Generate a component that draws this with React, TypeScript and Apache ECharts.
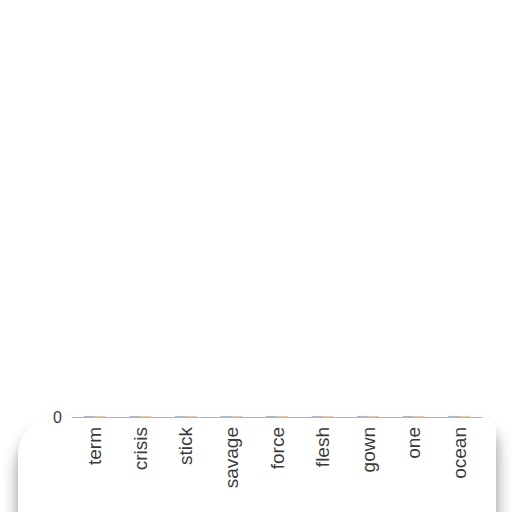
import React, { useEffect, useRef } from 'react';
import * as echarts from 'echarts';

const categories = ['term', 'crisis', 'stick', 'savage', 'force', 'flesh', 'gown', 'one', 'ocean'];
// bars are squashed to ~1px in the reference; heights can't be read, all look equal
const seriesA = [1, 1, 1, 1, 1, 1, 1, 1, 1];
const seriesB = [1, 1, 1, 1, 1, 1, 1, 1, 1];
const yTicks = [0, 1];

const App: React.FC = () => {
  const chartRef = useRef<HTMLDivElement>(null);

  useEffect(() => {
    if (!chartRef.current) return;
    const chart = echarts.init(chartRef.current, null, { renderer: 'svg' });
    chart.setOption({
      animation: false,
      backgroundColor: '#fff',
      graphic: [
        {
          type: 'rect',
          z: -10,
          silent: true,
          shape: { x: 18, y: 416, width: 478, height: 130, r: [40, 16, 0, 0] },
          style: {
            fill: '#fff',
            shadowBlur: 16,
            shadowOffsetY: 14,
            shadowColor: 'rgba(0,0,0,0.45)',
          },
        },
      ],
      grid: { left: 72, right: 30, top: 416, bottom: 95 },
      xAxis: {
        type: 'category',
        data: categories,
        z: 5,
        axisLine: { lineStyle: { color: '#b4b4b4' } },
        axisTick: { show: false },
        axisLabel: {
          rotate: 90,
          margin: 10,
          fontSize: 19,
          color: '#3a3a3a',
          fontFamily: 'Liberation Sans, Arial, sans-serif',
        },
      },
      yAxis: {
        type: 'value',
        min: yTicks[0],
        max: yTicks[yTicks.length - 1],
        interval: 1,
        splitLine: { show: false },
        axisLine: { show: false },
        axisTick: { show: false },
        axisLabel: {
          showMinLabel: true,
          showMaxLabel: true,
          hideOverlap: false,
          formatter: (v: number) => (v === yTicks[0] ? String(v) : ''),
          margin: 10,
          fontSize: 16,
          color: '#3a3a3a',
          fontFamily: 'Liberation Sans, Arial, sans-serif',
        },
      },
      series: [
        { name: 'A', type: 'bar', data: seriesA, barWidth: 11, barGap: '0%', itemStyle: { color: '#7d9ccb', opacity: 0.7 } },
        { name: 'B', type: 'bar', data: seriesB, barWidth: 11, barGap: '0%', itemStyle: { color: '#f2b06a', opacity: 0.7 } },
      ],
    });
    return () => chart.dispose();
  }, []);

  return (
    <div
      ref={chartRef}
      style={{ position: 'fixed', left: 0, top: 0, width: 512, height: 512 }}
    />
  );
};

export default App;
